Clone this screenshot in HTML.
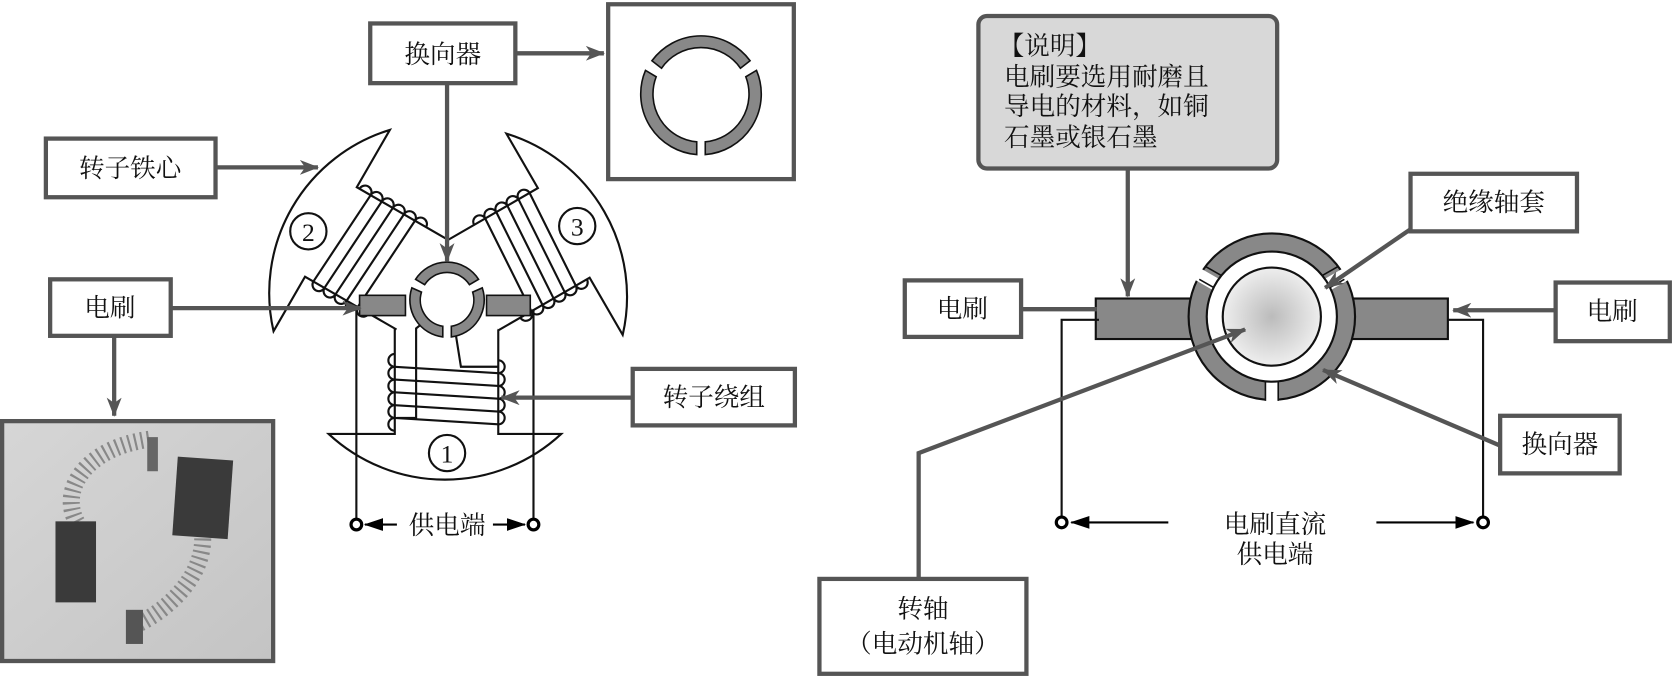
<!DOCTYPE html>
<html><head><meta charset="utf-8"><style>
html,body{margin:0;padding:0;background:#fff;}
svg{display:block;}
text{font-family:"Liberation Serif","Noto Serif CJK SC",serif;fill:#111;}
</style></head><body>
<svg width="1673" height="677" viewBox="0 0 1568 635" preserveAspectRatio="none" xmlns="http://www.w3.org/2000/svg">
<defs>
<marker id="agb" markerWidth="18" markerHeight="14" refX="17" refY="7" orient="auto" markerUnits="userSpaceOnUse"><path d="M0,0 L18,7 L0,14 L5,7 z" fill="#555"/></marker>
<marker id="ak" markerWidth="18" markerHeight="12" refX="17" refY="6" orient="auto" markerUnits="userSpaceOnUse"><path d="M0,0 L18,6 L0,12 z" fill="#000"/></marker>
<radialGradient id="sh" cx="0.5" cy="0.5" r="0.5"><stop offset="0" stop-color="#bbb"/><stop offset="1" stop-color="#eee"/></radialGradient>
<linearGradient id="ph" x1="0" y1="0" x2="1" y2="1"><stop offset="0" stop-color="#d6d6d6"/><stop offset="1" stop-color="#c4c4c4"/></linearGradient>
<g id="pole" fill="#fff" stroke="#111" stroke-width="2">
<path d="M370,308 L370,407 L308,407 A160,160 0 0 0 526,407 L467,407 L467,308"/>
<g fill="none">
<path d="M370,332 a6,6 0 0 0 0,12 a6,6 0 0 0 0,12 a6,6 0 0 0 0,12 a6,6 0 0 0 0,12 a6,6 0 0 0 0,12 a6,6 0 0 0 0,12"/>
<path d="M467,338 a6,6 0 0 1 0,12 a6,6 0 0 1 0,12 a6,6 0 0 1 0,12 a6,6 0 0 1 0,12 a6,6 0 0 1 0,12"/>
<path d="M370,344 L467,350 M370,356 L467,362 M370,368 L467,374 M370,380 L467,386 M370,392 L467,398"/>
</g>
</g>
</defs>

<use href="#pole"/>
<use href="#pole" transform="rotate(120 419 281)"/>
<use href="#pole" transform="rotate(-120 419 281)"/>
<path d="M372,392 L390,392 L390,308 L400,300" fill="none" stroke="#111" stroke-width="2"/>
<path d="M467,344 L432,344 L425,300" fill="none" stroke="#111" stroke-width="2"/>
<circle cx="289" cy="217" r="17" fill="#fff" stroke="#111" stroke-width="2"/><text x="289" y="226" font-size="24" text-anchor="middle">2</text>
<circle cx="541" cy="212" r="17" fill="#fff" stroke="#111" stroke-width="2"/><text x="541" y="221" font-size="24" text-anchor="middle">3</text>
<circle cx="419" cy="425" r="17" fill="#fff" stroke="#111" stroke-width="2"/><text x="419" y="434" font-size="24" text-anchor="middle">1</text>
<rect x="337" y="277" width="43" height="19" fill="#888" stroke="#111" stroke-width="1.5"/>
<rect x="456" y="277" width="41" height="19" fill="#888" stroke="#111" stroke-width="1.5"/>
<circle cx="419" cy="281" r="28" fill="#fff"/>
<g fill="#888" stroke="#111" stroke-width="1.5">
<path d="M389.5,262 A35,35 0 0 1 448.5,262 L440,267 A25,25 0 0 0 398,267 z"/>
<path d="M386,270 A35,35 0 0 0 415,316 L415,306 A25,25 0 0 1 395,274 z"/>
<path d="M452,270 A35,35 0 0 1 423,316 L423,306 A25,25 0 0 0 443,274 z"/>
</g>
<g stroke="#111" stroke-width="2" fill="none">
<path d="M334,290 L334,492"/><path d="M500,290 L500,492"/>
</g>
<circle cx="334" cy="492" r="5" fill="#fff" stroke="#000" stroke-width="3"/>
<circle cx="500" cy="492" r="5" fill="#fff" stroke="#000" stroke-width="3"/>
<line x1="372" y1="492" x2="342" y2="492" stroke="#000" stroke-width="2" marker-end="url(#ak)"/>
<line x1="462" y1="492" x2="492" y2="492" stroke="#000" stroke-width="2" marker-end="url(#ak)"/>
<text x="419" y="501" font-size="24" text-anchor="middle">供电端</text>

<g fill="#fff" stroke="#555" stroke-width="4">
<rect x="347" y="22" width="136" height="56"/>
<rect x="570" y="4" width="174" height="164"/>
<rect x="43" y="130" width="159" height="55"/>
<rect x="47" y="262" width="113" height="53"/>
<rect x="593" y="346" width="152" height="53"/>
<rect x="2" y="395" width="254" height="225" fill="url(#ph)"/>
</g>
<g font-size="24" text-anchor="middle">
<text x="415" y="59">换向器</text>
<text x="122" y="166">转子铁心</text>
<text x="103" y="297">电刷</text>
<text x="669" y="381">转子绕组</text>
</g>
<g stroke="#555" stroke-width="4" fill="none">
<line x1="419" y1="78" x2="419" y2="245" marker-end="url(#agb)"/>
<line x1="483" y1="50" x2="566" y2="50" marker-end="url(#agb)"/>
<line x1="202" y1="157" x2="298" y2="157" marker-end="url(#agb)"/>
<line x1="160" y1="289" x2="338" y2="289" marker-end="url(#agb)"/>
<line x1="107" y1="315" x2="107" y2="390" marker-end="url(#agb)"/>
<line x1="593" y1="373" x2="470" y2="373" marker-end="url(#agb)"/>
</g>
<g fill="#888" stroke="#111" stroke-width="1.5">
<path d="M611,57 A57,57 0 0 1 703,57 L694,64 A45,45 0 0 0 620,64 z"/>
<path d="M605,66 A57,57 0 0 0 653,145 L653,133 A45,45 0 0 1 615,72 z"/>
<path d="M709,66 A57,57 0 0 1 661,145 L661,133 A45,45 0 0 0 699,72 z"/>
</g>
<!-- photo -->
<g>
<path d="M72,490 C55,460 80,420 140,412" fill="none" stroke="#888" stroke-width="16" stroke-dasharray="2 4"/>
<path d="M190,505 C190,540 160,570 130,585" fill="none" stroke="#888" stroke-width="16" stroke-dasharray="2 4"/>
<rect x="52" y="489" width="38" height="76" fill="#3a3a3a"/>
<rect x="164" y="430" width="52" height="74" fill="#3a3a3a" transform="rotate(4 190 467)"/>
<rect x="138" y="410" width="10" height="32" fill="#666"/>
<rect x="118" y="572" width="16" height="32" fill="#555"/>
</g>

<rect x="917" y="15" width="280" height="143" rx="8" fill="#d8d8d8" stroke="#555" stroke-width="4"/>
<g font-size="24">
<text x="936" y="51">【说明】</text>
<text x="941" y="80">电刷要选用耐磨且</text>
<text x="941" y="108">导电的材料，如铜</text>
<text x="941" y="137">石墨或银石墨</text>
</g>
<rect x="1027" y="280" width="92" height="38" fill="#888" stroke="#111" stroke-width="2"/>
<rect x="1265" y="280" width="92" height="38" fill="#888" stroke="#111" stroke-width="2"/>
<circle cx="1192" cy="297" r="78" fill="#888" stroke="#111" stroke-width="2"/>
<g stroke="#fff" stroke-width="12">
<line x1="1192" y1="297" x2="1119" y2="255" />
<line x1="1192" y1="297" x2="1265" y2="255" />
<line x1="1192" y1="297" x2="1192" y2="377"/>
</g>
<g stroke="#111" stroke-width="1.5" fill="none">
<path d="M1186,358 L1186,376 M1198,358 L1198,376"/>
<path d="M1130,250 L1144,258 M1124,262 L1138,270"/>
<path d="M1254,250 L1240,258 M1260,262 L1246,270"/>
</g>
<circle cx="1192" cy="297" r="61" fill="#fff" stroke="#111" stroke-width="2"/>
<circle cx="1192" cy="297" r="46" fill="url(#sh)" stroke="#111" stroke-width="2"/>
<g stroke="#111" stroke-width="2" fill="none">
<path d="M1030,300 L995,300 L995,490"/><path d="M1357,300 L1390,300 L1390,490"/>
</g>
<circle cx="995" cy="490" r="5" fill="#fff" stroke="#000" stroke-width="3"/>
<circle cx="1390" cy="490" r="5" fill="#fff" stroke="#000" stroke-width="3"/>
<line x1="1095" y1="490" x2="1004" y2="490" stroke="#000" stroke-width="2" marker-end="url(#ak)"/>
<line x1="1290" y1="490" x2="1381" y2="490" stroke="#000" stroke-width="2" marker-end="url(#ak)"/>
<g font-size="24" text-anchor="middle">
<text x="1195" y="500">电刷直流</text>
<text x="1195" y="528">供电端</text>
</g>
<g fill="#fff" stroke="#555" stroke-width="4">
<rect x="848" y="263" width="109" height="53"/>
<rect x="1458" y="265" width="107" height="55"/>
<rect x="1322" y="163" width="156" height="54"/>
<rect x="1406" y="390" width="112" height="54"/>
<rect x="768" y="543" width="194" height="89"/>
</g>
<g font-size="24" text-anchor="middle">
<text x="902" y="298">电刷</text>
<text x="1511" y="300">电刷</text>
<text x="1400" y="198">绝缘轴套</text>
<text x="1462" y="425">换向器</text>
<text x="865" y="579">转轴</text>
<text x="865" y="612">（电动机轴）</text>
</g>
<g stroke="#555" stroke-width="4" fill="none">
<line x1="1057" y1="158" x2="1057" y2="278" marker-end="url(#agb)"/>
<line x1="957" y1="290" x2="1028" y2="290"/>
<line x1="1458" y1="291" x2="1362" y2="291" marker-end="url(#agb)"/>
<line x1="1322" y1="215" x2="1242" y2="270" marker-end="url(#agb)"/>
<line x1="1406" y1="418" x2="1240" y2="347" marker-end="url(#agb)"/>
<path d="M861,543 L861,425 L1167,309" marker-end="url(#agb)"/>
</g>
</svg>
</body></html>
